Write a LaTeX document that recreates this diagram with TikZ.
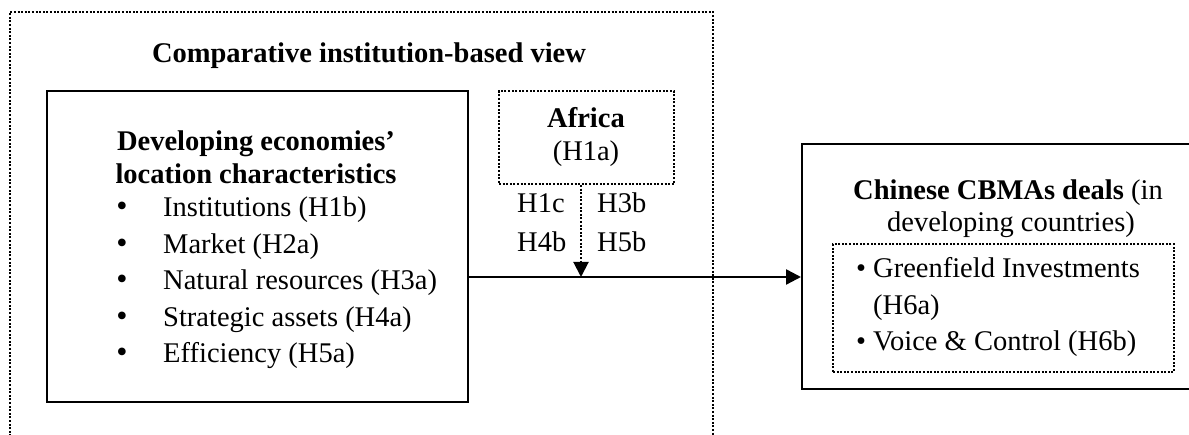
\documentclass[tikz,border=0pt]{standalone}
\usepackage{fontspec}
\setmainfont{Liberation Serif}
\usetikzlibrary{arrows.meta}
\begin{document}
\begin{tikzpicture}[x=1pt,y=-1pt,
  txt/.style={inner sep=0pt,anchor=base,font=\fontsize{28.5}{33}\selectfont},
  txtl/.style={txt,anchor=base west},
  bold/.style={txt,font=\fontsize{28.5}{33}\selectfont\bfseries},
  bul/.style={txt,font=\fontsize{32}{33}\selectfont},
  dotline/.style={line width=2pt,dash pattern=on 2pt off 1.6pt},
  solidbox/.style={draw,line width=2.4pt,inner sep=0pt,anchor=north west},
  dotbox/.style={draw,dotline,inner sep=0pt,anchor=north west},
  tip/.style={-{Triangle[length=15pt,width=15pt]}}
]
\useasboundingbox (0,0) rectangle (1189,435);
\clip (0,0) rectangle (1189,435);
\fill[white] (0,0) rectangle (1189,435);
% outer comparative frame
\draw[dotline] (10,440) -- (10,12) -- (713,12) -- (713,440);
\node[bold] (title) at (369,63) {Comparative institution-based view};
% left box
\node[solidbox,minimum width=421pt,minimum height=311pt] (loc) at (46,90) {};
\node[bold] (loch1) at (256,151) {Developing economies’};
\node[bold] (loch2) at (256,184) {location characteristics};
\node[bul] (b1) at (122,217) {•};
\node[txtl] (l1) at (163,217) {Institutions (H1b)};
\node[bul] (b2) at (122,253.5) {•};
\node[txtl] (l2) at (163,253.5) {Market (H2a)};
\node[bul] (b3) at (122,290) {•};
\node[txtl] (l3) at (163,290) {Natural resources (H3a)};
\node[bul] (b4) at (122,326.5) {•};
\node[txtl] (l4) at (163,326.5) {Strategic assets (H4a)};
\node[bul] (b5) at (122,363) {•};
\node[txtl] (l5) at (163,363) {Efficiency (H5a)};
% Africa box
\node[dotbox,minimum width=175pt,minimum height=93pt] (africa) at (498,90) {};
\node[bold] (afr) at (586,128) {Africa};
\node[txt] (afrh) at (586,161) {(H1a)};
\node[txtl] (h1c) at (517,213) {H1c};
\node[txtl] (h3b) at (597,213) {H3b};
\node[txtl] (h4b) at (517,252) {H4b};
\node[txtl] (h5b) at (597,252) {H5b};
% right box
\node[solidbox,minimum width=420pt,minimum height=245pt] (deals) at (801,143) {};
\node[txt] (dh1) at (1008,200) {\textbf{Chinese CBMAs deals} (in};
\node[txt] (dh2) at (1011,232) {developing countries)};
\node[dotbox,minimum width=341pt,minimum height=128pt] (modes) at (832,243) {};
\node[txt] (g1) at (861,278) {•};
\node[txtl] (gt1) at (873,278) {Greenfield Investments};
\node[txtl] (gt2) at (873,315) {(H6a)};
\node[txt] (g2) at (861,351) {•};
\node[txtl] (gt3) at (873,351) {Voice \& Control (H6b)};
% connectors
\coordinate (junction) at (581,277);
\draw[line width=2.4pt,tip] (loc.east |- junction) -- (deals.west |- junction);
\draw[dotline,tip] (africa.south -| junction) -- (junction);
\end{tikzpicture}
\end{document}
